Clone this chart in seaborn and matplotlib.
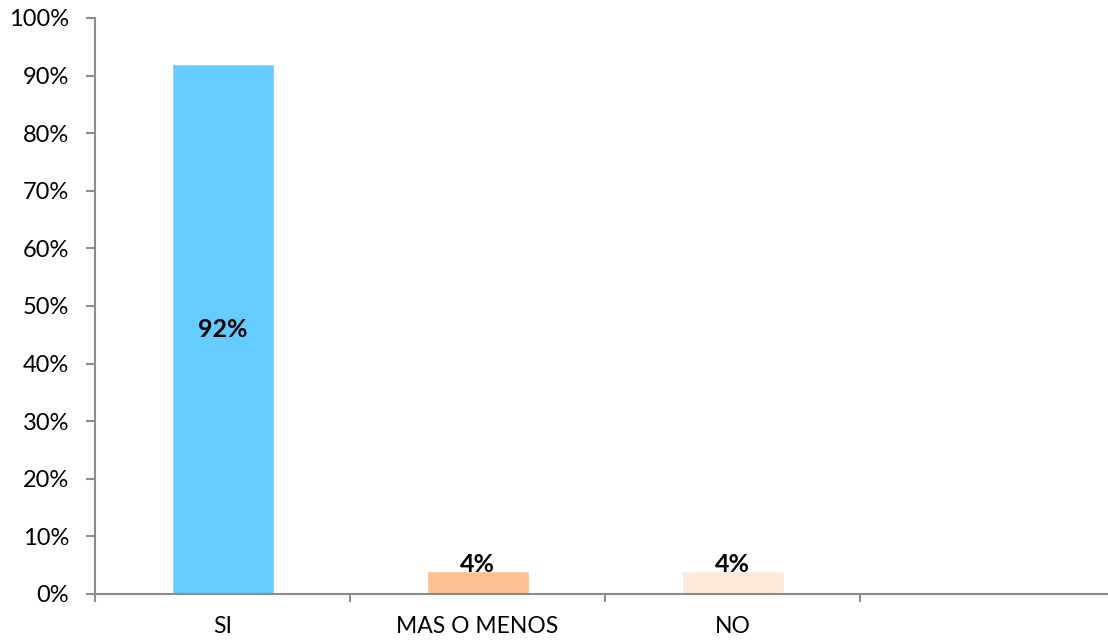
import matplotlib
matplotlib.use("Agg")
import matplotlib.pyplot as plt
import seaborn as sns
from matplotlib.ticker import PercentFormatter, FixedLocator

categories = ["SI", "MAS O MENOS", "NO"]
values = [0.92, 0.04, 0.04]
labels = ["92%", "4%", "4%"]
colors = ["#66CCFF", "#FAC090", "#FDE9D9"]
yticks = [i / 10 for i in range(11)]

sns.set_theme(style="white")
plt.rcParams["font.family"] = ["Lato", "DejaVu Sans"]

fig = plt.figure(figsize=(11.08, 6.4), dpi=100)
ax = fig.add_axes([95 / 1108, 46 / 640, 1013 / 1108, 576 / 640])

sns.barplot(x=categories, y=values, hue=categories, palette=colors,
            width=0.4, legend=False, ax=ax, saturation=1)

ax.set_ylim(0, 1)
ax.set_xlim(-0.5, 3.5 - 7 / 255)
ax.set_yticks(yticks)
ax.yaxis.set_major_formatter(PercentFormatter(1.0, decimals=0))
ax.set_xticks(range(len(categories)))
ax.set_xticklabels(categories)
ax.xaxis.set_minor_locator(FixedLocator([-0.5, 0.5, 1.5, 2.5]))

spine_color = "#8C8C8C"
for s in ["top", "right"]:
    ax.spines[s].set_visible(False)
for s in ["left", "bottom"]:
    ax.spines[s].set_color(spine_color)
    ax.spines[s].set_linewidth(1.5)

ax.tick_params(axis="y", which="major", length=6.5, width=1.5, color=spine_color,
               direction="out", left=True, labelsize=17, pad=12, labelcolor="black")
ax.tick_params(axis="x", which="major", length=0, labelsize=16.5, pad=16,
               labelcolor="black")
ax.tick_params(axis="x", which="minor", length=6, width=1.5, color=spine_color,
               direction="out", bottom=True)
ax.set_xlabel("")
ax.set_ylabel("")
ax.grid(False)

for i, (v, lab) in enumerate(zip(values, labels)):
    if v > 0.2:
        ax.text(i, v / 2, lab, ha="center", va="center", fontsize=18,
                fontweight="bold", color="black")
    else:
        ax.annotate(lab, (i, v), xytext=(0, 5), textcoords="offset points",
                    ha="center", va="center", fontsize=18, fontweight="bold",
                    color="black")

fig.savefig("out.png", dpi=100)
